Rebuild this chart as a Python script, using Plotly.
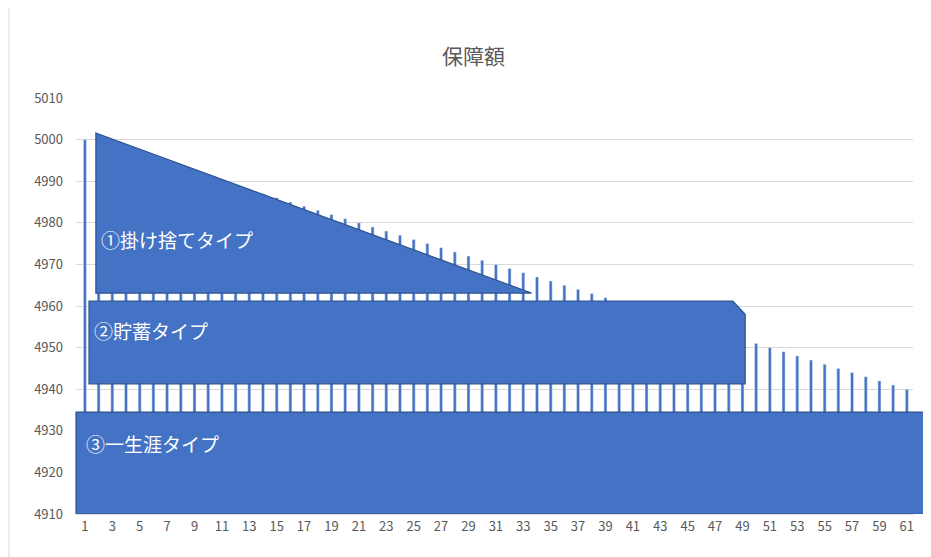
import plotly.graph_objects as go

years = list(range(1, 62))
amounts = [5000, 4999, 4998, 4997, 4996, 4995, 4994, 4993, 4992, 4991,
           4990, 4989, 4988, 4987, 4986, 4985, 4984, 4983, 4982, 4981,
           4980, 4979, 4978, 4977, 4976, 4975, 4974, 4973, 4972, 4971,
           4970, 4969, 4968, 4967, 4966, 4965, 4964, 4963, 4962, 4961,
           4960, 4959, 4958, 4957, 4956, 4955, 4954, 4953, 4952, 4951,
           4950, 4949, 4948, 4947, 4946, 4945, 4944, 4943, 4942, 4941, 4940]
tick_years = years[::2]
labels = ["①掛け捨てタイプ", "②貯蓄タイプ", "③一生涯タイプ"]

fill = "#4472C4"
edge = "#2F528F"

fig = go.Figure()
fig.add_trace(go.Bar(x=years, y=amounts, marker_color=fill, width=0.22))

shapes = [
    # triangle
    dict(type="path", xref="x", path="M 1.8 5001.6 L 33.6 4963.1 L 1.8 4963.1 Z"),
    # savings box with clipped corner
    dict(type="path", xref="x", path="M 1.3 4961.2 L 48.3 4961.2 L 49.2 4958 L 49.2 4941.3 L 1.3 4941.3 Z"),
    # whole-life box (runs past the plot edge)
    dict(type="path", xref="paper", path="M 0 4934.5 L 1.012 4934.5 L 1.03 4930.2 L 1.03 4910 L 0 4910 Z"),
]
for s in shapes:
    s.update(yref="y", fillcolor=fill, line=dict(color=edge, width=1.2), layer="above")
fig.update_layout(shapes=shapes)

for txt, x, y in zip(labels, [2.0, 1.5, 0.9], [4976, 4954, 4927]):
    fig.add_annotation(x=x, y=y, text=txt, showarrow=False, xanchor="left",
                       font=dict(size=19, color="white"))

fig.add_shape(type="rect", xref="paper", yref="paper", x0=-0.08, x1=1.0315,
              y0=-0.123, y1=1.22, line=dict(color="#D9D9D9", width=1), layer="below")

fig.update_layout(
    title=dict(text="保障額", x=0.5, y=0.925, xanchor="center", automargin=False,
               font=dict(size=21, color="#595959")),
    width=931, height=557,
    margin=dict(l=68, r=26, t=90, b=51, autoexpand=False),
    plot_bgcolor="white", paper_bgcolor="white",
    font=dict(family="Noto Sans CJK JP", size=13, color="#595959"),
    showlegend=False,
    xaxis=dict(range=[0.35, 61.45], tickvals=tick_years, showgrid=False, automargin=False,
               showline=True, linecolor="#D9D9D9", ticks=""),
    yaxis=dict(range=[4910, 5010], dtick=10, gridcolor="#D9D9D9", automargin=False,
               zeroline=False, ticks="", ticklabelstandoff=12),
)
fig.write_html("out.html")
